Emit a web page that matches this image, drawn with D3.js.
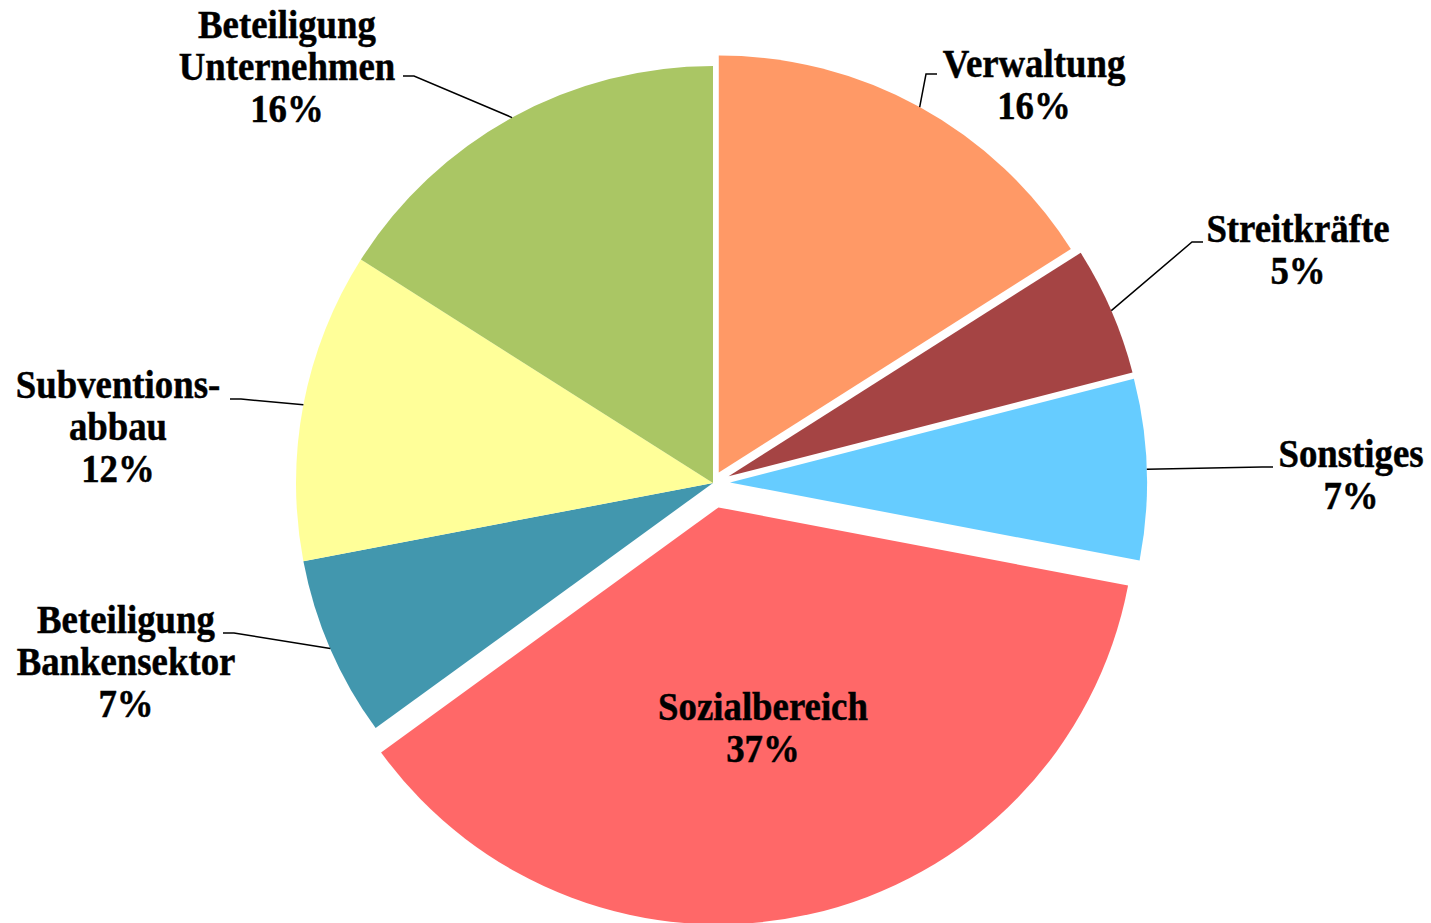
<!DOCTYPE html>
<html lang="de">
<head>
<meta charset="utf-8">
<script src="https://cdn.jsdelivr.net/npm/d3@7/dist/d3.min.js"></script>
<style>
  body { margin: 0; background: #ffffff; }
  svg { display: block; }
</style>
</head>
<body>
<div id="chart"></div>
<script>
// === DONNÉES ===
const categories = ["Verwaltung", "Streitkräfte", "Sonstiges", "Sozialbereich",
  "Beteiligung Bankensektor", "Subventionsabbau", "Beteiligung Unternehmen"];
const values = [16, 5, 7, 37, 7, 12, 16];
const labelLines = [
  ["Verwaltung"], ["Streitkräfte"], ["Sonstiges"], ["Sozialbereich"],
  ["Beteiligung", "Bankensektor"], ["Subventions-", "abbau"], ["Beteiligung", "Unternehmen"]
];

// === CONFIGURATION ===
const width = 1431;
const height = 923;
const center = { x: 713, y: 483 };
const radius = 417;
const colors = ["#ff9966", "#a54444", "#66ccff", "#ff6868", "#4297ae", "#ffff99", "#aac664"];
// décalage (px) des parts détachées
const explode = { "Verwaltung": 12, "Streitkräfte": 17, "Sonstiges": 17, "Sozialbereich": 25 };
// position des étiquettes par rapport au centre : texte (tx, ty = 1re ligne) et fin du trait (lx, ly)
const labelLayout = {
  "Verwaltung":               { tx: 321,  ty: -406, lx: 224,  ly: -409 },
  "Streitkräfte":             { tx: 585,  ty: -241, lx: 490,  ly: -241 },
  "Sonstiges":                { tx: 638,  ty: -16,  lx: 560,  ly: -16 },
  "Sozialbereich":            { tx: 50,   ty: 237 },
  "Beteiligung Bankensektor": { tx: -587, ty: 150,  lx: -490, ly: 150 },
  "Subventionsabbau":         { tx: -595, ty: -85,  lx: -483, ly: -84 },
  "Beteiligung Unternehmen":  { tx: -426, ty: -445, lx: -310, ly: -407 }
};
const lineHeight = 42;
const fontSize = 40;
const squeeze = 0.92;

const data = categories.map((c, i) => ({ name: c, value: values[i], lines: labelLines[i], color: colors[i] }));

const svg = d3.select("#chart")
  .append("svg")
  .attr("width", width)
  .attr("height", height)
  .append("g")
  .attr("transform", `translate(${center.x},${center.y})`);

const pie = d3.pie().sort(null).value(d => d.value);
const arc = d3.arc().innerRadius(0).outerRadius(radius);
const arcs = pie(data);

const midAngle = d => (d.startAngle + d.endAngle) / 2;
const shift = d => explode[d.data.name] || 0;

// === PARTS ===
svg.selectAll(".slice")
  .data(arcs)
  .enter()
  .append("path")
  .attr("class", "slice")
  .attr("d", arc)
  .attr("fill", d => d.data.color)
  .attr("transform", d => {
    const a = midAngle(d), e = shift(d);
    return `translate(${Math.sin(a) * e},${-Math.cos(a) * e})`;
  });

// === TRAITS DE RAPPEL ===
svg.selectAll(".leader")
  .data(arcs.filter(d => labelLayout[d.data.name].lx !== undefined))
  .enter()
  .append("polyline")
  .attr("class", "leader")
  .attr("fill", "none")
  .attr("stroke", "#000")
  .attr("stroke-width", 1.5)
  .attr("points", d => {
    const a = midAngle(d), r = radius + shift(d);
    const p = labelLayout[d.data.name];
    const side = p.lx > 0 ? -1 : 1;
    const start = [Math.sin(a) * r, -Math.cos(a) * r];
    return [start, [p.lx + side * 11, p.ly], [p.lx, p.ly]].map(q => q.join(",")).join(" ");
  });

// === ÉTIQUETTES ===
const labels = svg.selectAll(".label")
  .data(arcs)
  .enter()
  .append("g")
  .attr("class", "label")
  .attr("transform", d => {
    const p = labelLayout[d.data.name];
    return `translate(${p.tx},${p.ty}) scale(${squeeze},1)`;
  });

labels.append("text")
  .attr("text-anchor", "middle")
  .style("font-family", "'Liberation Serif', 'Times New Roman', serif")
  .style("font-weight", "bold")
  .style("font-size", fontSize + "px")
  .style("fill", "#000")
  .style("stroke", "#000")
  .style("stroke-width", "0.5px")
  .each(function(d) {
    const t = d3.select(this);
    d.data.lines.concat([d.data.value + "%"]).forEach((line, i) => {
      t.append("tspan")
        .attr("x", 0)
        .attr("y", i * lineHeight)
        .text(line);
    });
  });
</script>
</body>
</html>
